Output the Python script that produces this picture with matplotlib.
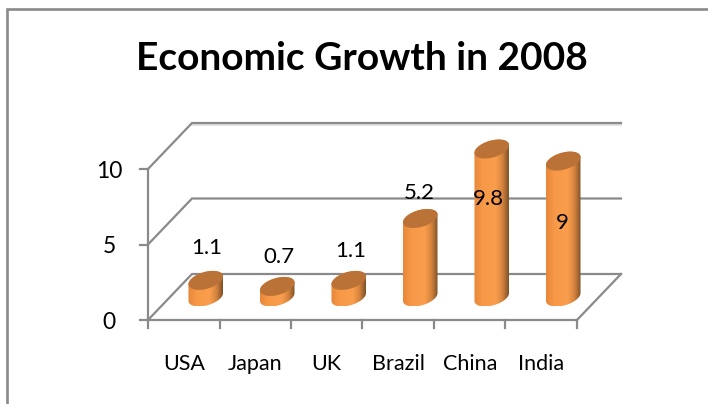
import numpy as np
import matplotlib
matplotlib.use('Agg')
import matplotlib.pyplot as plt
from matplotlib.colors import LinearSegmentedColormap
from matplotlib.lines import Line2D
from matplotlib.patches import PathPatch, Polygon
from matplotlib.path import Path

plt.rcParams['font.family'] = ['Lato', 'DejaVu Sans']

countries = ['USA', 'Japan', 'UK', 'Brazil', 'China', 'India']
growth = [1.1, 0.7, 1.1, 5.2, 9.8, 9]
value_labels = ['1.1', '0.7', '1.1', '5.2', '9.8', '9']
value_ticks = [0, 5, 10]
title_text = 'Economic Growth in 2008'

W, H = 708, 404
GREY = '#8a8a8a'

# pixels per data unit and position of the front origin
X_SCALE, Y_SCALE = 71.5, 15.1
X0, Y0 = 148, 320

# 3d look: the back wall is the front plane shifted by this much (data units)
depth_x = 44 / X_SCALE
depth_y = 46 / Y_SCALE

# hand placed data labels, offset from the centre of each cylinder top
label_dx = [0.01, 0.03, 0.03, -0.02, -0.05, -0.01]
label_dy = [2.12, 1.95, 1.92, 1.68, -3.3, -4.1]

body_cmap = LinearSegmentedColormap.from_list('body', [
    (0.0, '#e8873a'), (0.25, '#f79a48'), (0.62, '#fa9d4c'),
    (0.82, '#d5843f'), (1.0, '#7f5128')])


def cylinder(ax, x, top):
    # floor ellipse is sheared along the depth direction
    t = np.linspace(0, 2*np.pi, 200)
    ux, vx, vy = 15.8/X_SCALE, 7/X_SCALE, 9.5/Y_SCALE
    ex = ux*np.cos(t) + vx*np.sin(t)
    ey = vy*np.sin(t)
    cx = x + depth_x/2
    base = depth_y/2
    half = np.hypot(ux, vx)

    # outline of the body: lower half of the base, upper half of the top
    left = np.argmin(ex)
    right = np.argmax(ex)
    order = np.roll(np.arange(len(t)-1), -left)
    stop = np.where(order == right)[0][0]
    lower = order[:stop+1]
    upper = order[stop:]
    px = np.r_[ex[lower], ex[upper]] + cx
    py = np.r_[ey[lower] + base, ey[upper] + base + top]
    clip = PathPatch(Path(np.c_[px, py]), fc='none', ec='none', transform=ax.transData)
    ax.add_patch(clip)

    grad = np.linspace(0, 1, 64).reshape(1, -1)
    im = ax.imshow(grad, cmap=body_cmap, aspect='auto', zorder=3,
                   extent=(cx-half, cx+half, base-vy, base+top+vy))
    im.set_clip_path(clip)
    ax.add_patch(Polygon(np.c_[ex+cx, ey+base+top], fc='#bb7236', ec='none', zorder=4))


fig = plt.figure(figsize=(W/100, H/100), dpi=100)
fig.patch.set_facecolor('white')

# chart border, it runs off the image on the right and at the bottom
fig.add_artist(Line2D([7/W, 7/W, 1], [0, 1-8.5/H, 1-8.5/H], color=GREY, lw=1.9,
                      solid_joinstyle='miter'))

ax = fig.add_axes([0, 0, 1, 1])
ax.axis('off')
n = len(countries)

# back wall band under the top gridline
ax.plot([depth_x, n+depth_x], [value_ticks[-1]+depth_y-0.14]*2, color='#dcdcdc', lw=1.2, zorder=0)

# floor and gridlines on the back wall
for v in value_ticks:
    ax.plot([0, depth_x, n+depth_x], [v, v+depth_y, v+depth_y], color=GREY, lw=1.6,
            zorder=1, solid_joinstyle='miter')
ax.plot([n, n+depth_x], [0, depth_y], color=GREY, lw=1.6, zorder=1)
ax.plot([0, 0], [0, value_ticks[-1]], color=GREY, lw=1.6, zorder=2)
ax.plot([0, n], [0, 0], color=GREY, lw=1.6, zorder=2)

# tick marks on the front edges
for v in value_ticks:
    ax.plot([-0.11, 0], [v, v], color=GREY, lw=1.6)
    ax.text(-0.54, v-0.16, str(v), ha='center', va='center', fontsize=16.5)
for i in range(n+1):
    ax.plot([i, i], [0, -0.53], color=GREY, lw=1.6)

for i, (c, v, lab) in enumerate(zip(countries, growth, value_labels)):
    cylinder(ax, i+0.5, v)
    ax.text(i+0.5, -2.94, c, ha='center', va='center', fontsize=15.5)
    ax.text(i+0.5+depth_x/2+label_dx[i], depth_y/2+v+label_dy[i], lab, ha='center', va='center',
            fontsize=16, zorder=6)

# full figure axes, limits keep the front origin and the scales above
ax.set_xlim(-X0/X_SCALE, (W-X0)/X_SCALE)
ax.set_ylim(-(H-Y0)/Y_SCALE, Y0/Y_SCALE)

ax.text((362-X0)/X_SCALE, (Y0-59)/Y_SCALE, title_text, ha='center', va='center',
        fontsize=28, fontweight='bold')

fig.savefig('out.png', dpi=100)
